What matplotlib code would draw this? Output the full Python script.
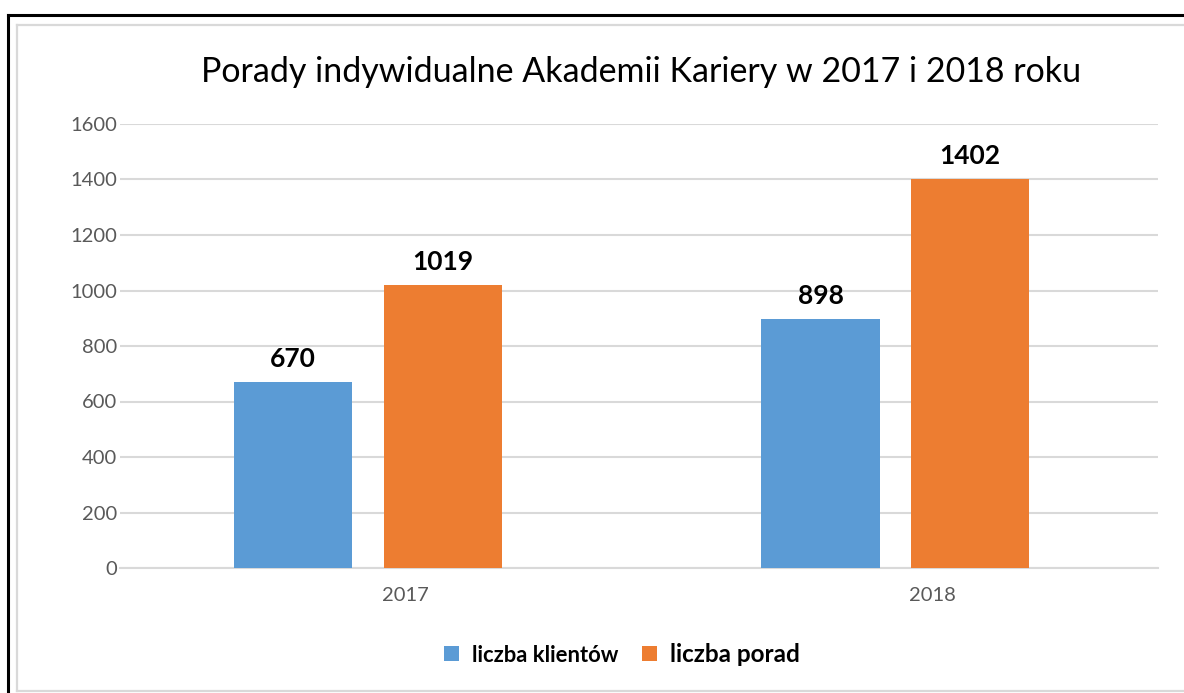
import matplotlib
matplotlib.use('Agg')
import matplotlib.pyplot as plt
import matplotlib.transforms as mtransforms
from matplotlib.lines import Line2D
import numpy as np

# dane z wykresu
years = ['2017', '2018']
klienci = [670, 898]
porady = [1019, 1402]
series_names = ['liczba klientów', 'liczba porad']
title = 'Porady indywidualne Akademii Kariery w 2017 i 2018 roku'
y_ticks = [0, 200, 400, 600, 800, 1000, 1200, 1400, 1600]

BLUE = '#5b9bd5'
ORANGE = '#ed7d31'
GRID = '#d9d9d9'
TICK = '#595959'

plt.rcParams['font.family'] = ['Lato', 'DejaVu Sans']

W, H = 1184, 693
fig = plt.figure(figsize=(W / 100, H / 100), dpi=100)
fig.patch.set_facecolor('white')

# obszar wykresu w pikselach
left, right, bottom, top = 120, 1158, 568, 124
ax = fig.add_axes([left / W, 1 - bottom / H, (right - left) / W, (bottom - top) / H])

x = np.arange(len(years))
bar_w = 0.224
off = 0.142
b1 = ax.bar(x - off, klienci, bar_w, color=BLUE, label=series_names[0], zorder=3)
b2 = ax.bar(x + off, porady, bar_w, color=ORANGE, label=series_names[1], zorder=3)

for bars in (b1, b2):
    ax.bar_label(bars, padding=8, fontsize=19, fontweight='bold', color='black')

ax.set_xlim(-0.470, 1.498)
ax.set_ylim(0, 1600)
ax.set_yticks(y_ticks)
ax.set_yticklabels([str(v) for v in y_ticks], fontsize=14.5, color=TICK)
ax.set_xticks(x)
ax.set_xticklabels(years, fontsize=14.5, color=TICK)
ax.tick_params(axis='both', length=0)
ax.tick_params(axis='y', pad=2)
ax.tick_params(axis='x', pad=14)

# etykiety lat przesunięte w prawo jak w oryginale
shift = mtransforms.ScaledTranslation(37 / 100, 0, fig.dpi_scale_trans)
for lab in ax.get_xticklabels():
    lab.set_transform(lab.get_transform() + shift)

ax.grid(axis='y', color=GRID, linewidth=1.5, zorder=0)
for s in ['top', 'right', 'left']:
    ax.spines[s].set_visible(False)
ax.spines['bottom'].set_color(GRID)
ax.spines['bottom'].set_linewidth(1.5)

fig.text(641 / W, 1 - 72 / H, title, ha='center', va='center', fontsize=24.5, color='black')

leg = ax.legend(loc='center', bbox_to_anchor=(622 / W, 1 - 654 / H), bbox_transform=fig.transFigure,
                ncol=2, frameon=False, handlelength=0.65, handleheight=0.65,
                handletextpad=0.6, columnspacing=1.1, prop={'weight': 'bold', 'size': 15.8})
leg.get_texts()[1].set_fontsize(17.5)

# ramki
def line(xs, ys, color, lw):
    fig.add_artist(Line2D([v / W for v in xs], [1 - v / H for v in ys], color=color, linewidth=lw))

line([8, W], [15, 15], 'black', 2.2)
line([8, 8], [15, H], 'black', 2.2)
line([17, W], [25, 25], GRID, 1.6)
line([17, 17], [25, 691], GRID, 1.6)
line([17, W], [691, 691], GRID, 1.6)

fig.savefig('out.png', dpi=100)
